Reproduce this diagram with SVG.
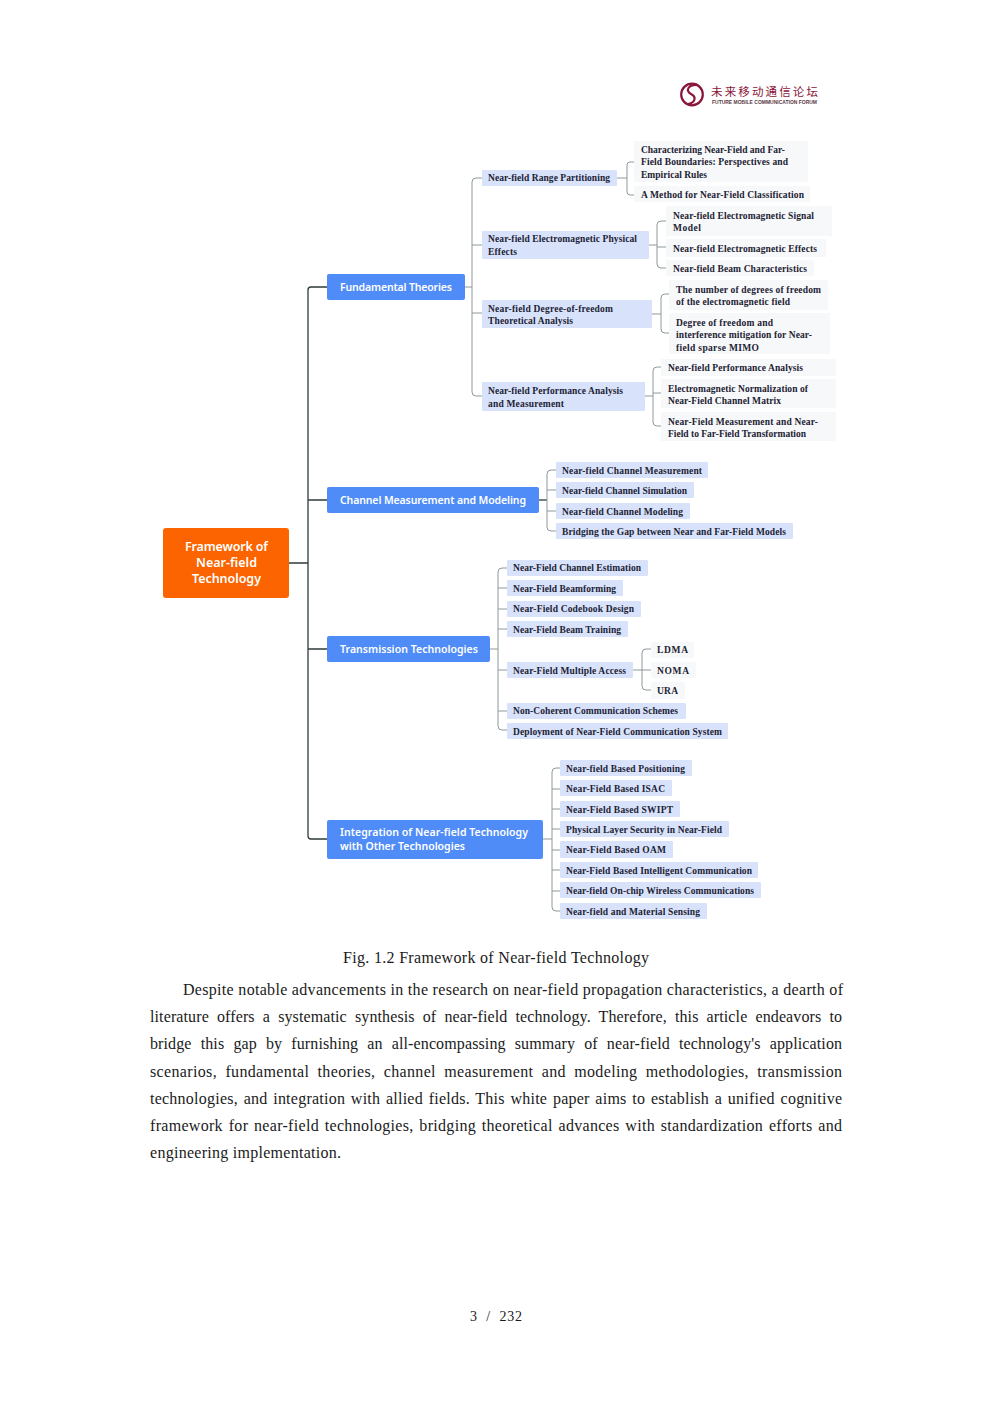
<svg xmlns="http://www.w3.org/2000/svg" width="992" height="1403" viewBox="0 0 992 1403">
<style>
.root{fill:#fb6400}
.l1{fill:#4f8cf7}
.l2{fill:#d8e3fb}
.l3{fill:#f7f8f9}
.wt{font-family:"Noto Sans","Open Sans",sans-serif;font-weight:600;fill:#fff}
.t{font-family:"Liberation Serif",serif;font-weight:700;font-size:9.5px;fill:#1c2233}
.p{font-family:"Liberation Serif",serif;font-size:16px;fill:#1a1a1a}
.c{fill:none;stroke:#8c9a98;stroke-width:1}
.m{fill:none;stroke:#2f3b3b;stroke-width:1.3}
</style>
<g id="logo">
<circle cx="692" cy="94.500" r="10.800" fill="none" stroke="#8a1538" stroke-width="2.200"/>
<path d="M698 85C688 84 685 91 691 94C697 97 695 103 688 104" fill="none" stroke="#8a1538" stroke-width="2.200"/>
<text x="711" y="96" font-family="'Noto Sans CJK SC',sans-serif" font-size="11.500" fill="#8a1538" textLength="107">未来移动通信论坛</text>
<text x="712" y="104" font-family="'Liberation Sans',sans-serif" font-size="5" font-weight="700" fill="#5a3a45" textLength="105" lengthAdjust="spacingAndGlyphs">FUTURE MOBILE COMMUNICATION FORUM</text>
</g>
<g id="connectors">
<path class="m" d="M289 563H308M327 287H311Q308 287 308 290V836Q308 839 311 839H327M308 500H327M308 649H327"/>
<path class="c" d="M465 287H472M482 178H476Q472 178 472 182V392Q472 396 476 396H482M472 245H482M472 313H482"/>
<path class="c" d="M617 178H627M634 162H630Q627 162 627 165V192Q627 195 630 195H634"/>
<path class="c" d="M649 245H657M666 221H661Q657 221 657 225V264Q657 268 661 268H666M657 247H666"/>
<path class="c" d="M652 314H661M669 294H665Q661 294 661 298V329Q661 333 665 333H669"/>
<path class="c" d="M645 396H653M661 367H657Q653 367 653 371V422Q653 426 657 426H661M653 393H661"/>
<path class="m" d="M539 500H547"/>
<path class="c" d="M556 470H551Q547 470 547 474V527Q547 531 551 531H556M547 490H556M547 511H556"/>
<path class="c" d="M490 649H498M507 568H502Q498 568 498 572V726Q498 730 502 730H507M498 588H507M498 609H507M498 629H507M498 670H507M498 711H507"/>
<path class="c" d="M633 670H651M651 649H646Q642 649 642 653V686Q642 690 646 690H651"/>
<path class="c" d="M543 839H552M560 768H556Q552 768 552 772V907Q552 911 556 911H560M552 789H560M552 809H560M552 829H560M552 850H560M552 870H560M552 891H560"/>
</g>
<g id="root"><rect class="root" x="163" y="528" width="126" height="70" rx="3"/>
<text class="wt" font-size="12.500" x="185" y="551" textLength="83">Framework of</text>
<text class="wt" font-size="12.500" x="196" y="567" textLength="61">Near-field</text>
<text class="wt" font-size="12.500" x="192" y="583" textLength="69">Technology</text></g>
<g id="fundamental"><rect class="l1" x="327" y="274" width="138" height="26" rx="2"/><text class="wt" font-size="10.500" x="340" y="291" textLength="112">Fundamental Theories</text></g>
<g id="channel"><rect class="l1" x="327" y="487" width="212" height="26" rx="2"/><text class="wt" font-size="10.500" x="340" y="504" textLength="186">Channel Measurement and Modeling</text></g>
<g id="transmission"><rect class="l1" x="327" y="636" width="163" height="26" rx="2"/><text class="wt" font-size="10.500" x="340" y="653" textLength="138">Transmission Technologies</text></g>
<g id="integration"><rect class="l1" x="327" y="820" width="216" height="39" rx="2"/><text class="wt" font-size="10.500" x="340" y="836" textLength="188">Integration of Near-field Technology</text><text class="wt" font-size="10.500" x="340" y="850" textLength="125">with Other Technologies</text></g>

<g id="n-range"><rect class="l2" x="482" y="170" width="135" height="16" rx="1"/><text class="t" x="488" y="181" textLength="122">Near-field Range Partitioning</text></g>
<g id="n-em"><rect class="l2" x="482" y="231" width="167" height="28" rx="1"/><text class="t" x="488" y="242" textLength="149">Near-field Electromagnetic Physical</text><text class="t" x="488" y="255" textLength="29">Effects</text></g>
<g id="n-dof"><rect class="l2" x="482" y="300" width="170" height="28" rx="1"/><text class="t" x="488" y="312" textLength="125">Near-field Degree-of-freedom</text><text class="t" x="488" y="324" textLength="85">Theoretical Analysis</text></g>
<g id="n-perf"><rect class="l2" x="482" y="382" width="163" height="29" rx="1"/><text class="t" x="488" y="394" textLength="135">Near-field Performance Analysis</text><text class="t" x="488" y="407" textLength="76">and Measurement</text></g>

<g id="n-char"><rect class="l3" x="634" y="141" width="174" height="41"/><text class="t" x="641" y="152.500" textLength="144">Characterizing Near-Field and Far-</text><text class="t" x="641" y="164.500" textLength="147">Field Boundaries: Perspectives and</text><text class="t" x="641" y="177.500" textLength="66">Empirical Rules</text></g>
<g id="n-method"><rect class="l3" x="634" y="186" width="176" height="16"/><text class="t" x="641" y="198" textLength="163">A Method for Near-Field Classification</text></g>
<g id="n-signal"><rect class="l3" x="666" y="206" width="166" height="30"/><text class="t" x="673" y="219" textLength="141">Near-field Electromagnetic Signal</text><text class="t" x="673" y="231" textLength="28">Model</text></g>
<g id="n-effects"><rect class="l3" x="666" y="239" width="160" height="18"/><text class="t" x="673" y="251.500" textLength="144">Near-field Electromagnetic Effects</text></g>
<g id="n-beamchar"><rect class="l3" x="666" y="260" width="148" height="16"/><text class="t" x="673" y="272" textLength="134">Near-field Beam Characteristics</text></g>
<g id="n-degrees"><rect class="l3" x="669" y="280" width="159" height="30"/><text class="t" x="676" y="292.500" textLength="145">The number of degrees of freedom</text><text class="t" x="676" y="305" textLength="114">of the electromagnetic field</text></g>
<g id="n-mitigation"><rect class="l3" x="669" y="313" width="161" height="41"/><text class="t" x="676" y="325.500" textLength="97">Degree of freedom and</text><text class="t" x="676" y="337.500" textLength="136">interference mitigation for Near-</text><text class="t" x="676" y="350.500" textLength="83">field sparse MIMO</text></g>
<g id="n-perfa"><rect class="l3" x="661" y="359" width="175" height="17"/><text class="t" x="668" y="371" textLength="135">Near-field Performance Analysis</text></g>
<g id="n-norm"><rect class="l3" x="661" y="379" width="175" height="29"/><text class="t" x="668" y="391.500" textLength="140">Electromagnetic Normalization of</text><text class="t" x="668" y="403.500" textLength="113">Near-Field Channel Matrix</text></g>
<g id="n-meas"><rect class="l3" x="661" y="412" width="175" height="29"/><text class="t" x="668" y="424.500" textLength="150">Near-Field Measurement and Near-</text><text class="t" x="668" y="437" textLength="138">Field to Far-Field Transformation</text></g>

<g id="c-meas"><rect class="l2" x="556" y="462" width="152" height="16" rx="1"/><text class="t" x="562" y="473.500" textLength="140">Near-field Channel Measurement</text></g>
<g id="c-sim"><rect class="l2" x="556" y="482" width="138" height="16" rx="1"/><text class="t" x="562" y="494" textLength="125">Near-field Channel Simulation</text></g>
<g id="c-mod"><rect class="l2" x="556" y="503" width="134" height="16" rx="1"/><text class="t" x="562" y="514.500" textLength="121">Near-field Channel Modeling</text></g>
<g id="c-gap"><rect class="l2" x="556" y="523" width="237" height="16" rx="1"/><text class="t" x="562" y="534.500" textLength="224">Bridging the Gap between Near and Far-Field Models</text></g>

<g id="t-est"><rect class="l2" x="507" y="560" width="141" height="16" rx="1"/><text class="t" x="513" y="571" textLength="128">Near-Field Channel Estimation</text></g>
<g id="t-beam"><rect class="l2" x="507" y="580" width="116" height="16" rx="1"/><text class="t" x="513" y="592" textLength="103">Near-Field Beamforming</text></g>
<g id="t-code"><rect class="l2" x="507" y="601" width="134" height="16" rx="1"/><text class="t" x="513" y="612" textLength="121">Near-Field Codebook Design</text></g>
<g id="t-train"><rect class="l2" x="507" y="621" width="121" height="16" rx="1"/><text class="t" x="513" y="633" textLength="108">Near-Field Beam Training</text></g>
<g id="t-ma"><rect class="l2" x="507" y="662" width="126" height="16" rx="1"/><text class="t" x="513" y="674" textLength="113">Near-Field Multiple Access</text></g>
<g id="t-non"><rect class="l2" x="507" y="703" width="179" height="16" rx="1"/><text class="t" x="513" y="714" textLength="165">Non-Coherent Communication Schemes</text></g>
<g id="t-dep"><rect class="l2" x="507" y="723" width="221" height="16" rx="1"/><text class="t" x="513" y="735" textLength="209">Deployment of Near-Field Communication System</text></g>
<g id="t-ldma"><rect class="l3" x="651" y="642" width="43" height="16"/><text class="t" x="657" y="653" textLength="31">LDMA</text></g>
<g id="t-noma"><rect class="l3" x="651" y="662" width="45" height="16"/><text class="t" x="657" y="674" textLength="32">NOMA</text></g>
<g id="t-ura"><rect class="l3" x="651" y="682" width="34" height="17"/><text class="t" x="657" y="694" textLength="21">URA</text></g>

<g id="i-pos"><rect class="l2" x="560" y="760" width="132" height="16" rx="1"/><text class="t" x="566" y="772" textLength="119">Near-field Based Positioning</text></g>
<g id="i-isac"><rect class="l2" x="560" y="780" width="112" height="16" rx="1"/><text class="t" x="566" y="792" textLength="99">Near-Field Based ISAC</text></g>
<g id="i-swipt"><rect class="l2" x="560" y="801" width="120" height="16" rx="1"/><text class="t" x="566" y="812.500" textLength="107">Near-Field Based SWIPT</text></g>
<g id="i-sec"><rect class="l2" x="560" y="821" width="169" height="16" rx="1"/><text class="t" x="566" y="833" textLength="156">Physical Layer Security in Near-Field</text></g>
<g id="i-oam"><rect class="l2" x="560" y="841" width="113" height="17" rx="1"/><text class="t" x="566" y="853" textLength="100">Near-Field Based OAM</text></g>
<g id="i-int"><rect class="l2" x="560" y="862" width="198" height="16" rx="1"/><text class="t" x="566" y="874" textLength="186">Near-Field Based Intelligent Communication</text></g>
<g id="i-chip"><rect class="l2" x="560" y="882" width="201" height="16" rx="1"/><text class="t" x="566" y="894" textLength="188">Near-field On-chip Wireless Communications</text></g>
<g id="i-sens"><rect class="l2" x="560" y="903" width="147" height="16" rx="1"/><text class="t" x="566" y="915" textLength="134">Near-field and Material Sensing</text></g>

<text class="p" x="343" y="963" textLength="306">Fig. 1.2 Framework of Near-field Technology</text>
<text class="p" x="183" y="995" textLength="660">Despite notable advancements in the research on near-field propagation characteristics, a dearth of</text>
<text class="p" x="150" y="1022" textLength="692" word-spacing="4">literature offers a systematic synthesis of near-field technology. Therefore, this article endeavors to</text>
<text class="p" x="150" y="1049" textLength="692" word-spacing="5">bridge this gap by furnishing an all-encompassing summary of near-field technology's application</text>
<text class="p" x="150" y="1077" textLength="692" word-spacing="4">scenarios, fundamental theories, channel measurement and modeling methodologies, transmission</text>
<text class="p" x="150" y="1104" textLength="692" word-spacing="1.500">technologies, and integration with allied fields. This white paper aims to establish a unified cognitive</text>
<text class="p" x="150" y="1131" textLength="692" word-spacing="1.500">framework for near-field technologies, bridging theoretical advances with standardization efforts and</text>
<text class="p" x="150" y="1158" textLength="191">engineering implementation.</text>
<text class="p" style="font-size:14px" x="470" y="1321" textLength="52" xml:space="preserve">3  /  232</text>
</svg>
